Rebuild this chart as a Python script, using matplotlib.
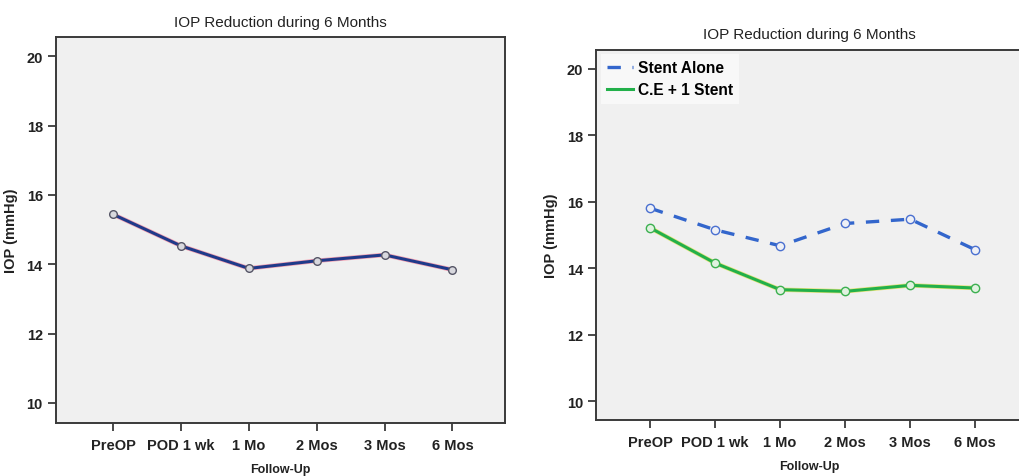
import matplotlib
matplotlib.use("Agg")
import matplotlib.pyplot as plt

categories = ["PreOP", "POD 1 wk", "1 Mo", "2 Mos", "3 Mos", "6 Mos"]
overall_iop = [15.44, 14.53, 13.88, 14.10, 14.27, 13.84]
stent_alone = [15.81, 15.16, 14.68, 15.35, 15.48, 14.56]
ce_stent = [15.22, 14.16, 13.36, 13.31, 13.49, 13.41]
yticks = [10, 12, 14, 16, 18, 20]
title = "IOP Reduction during 6 Months"

plt.rcParams['font.family'] = ['Liberation Sans', 'DejaVu Sans']

fig = plt.figure(figsize=(10.19, 4.77), dpi=100)
fig.patch.set_facecolor('white')

ax1 = fig.add_axes([0.055, 0.111, 0.441, 0.809])
ax2 = fig.add_axes([0.585, 0.118, 0.418, 0.776])

x = list(range(len(categories)))

def style(ax, ylim, xlim):
    ax.set_facecolor('#f0f0f0')
    for s in ax.spines.values():
        s.set_color('#3a3a3a')
        s.set_linewidth(1.4)
    ax.set_ylim(*ylim)
    ax.set_xlim(*xlim)
    ax.set_yticks(yticks)
    ax.set_yticklabels([str(t) for t in yticks], fontsize=10.5, fontweight='bold', color='#222222')
    ax.set_xticks(x)
    ax.set_xticklabels(categories, fontsize=10.5, fontweight='bold', color='#222222')
    ax.tick_params(axis='both', direction='out', length=6, width=1.3, color='#3a3a3a')
    ax.tick_params(axis='x', pad=5)
    ax.set_xlabel("Follow-Up", fontsize=9, fontweight='bold', color='#222222', labelpad=8)
    ax.set_ylabel("IOP (mmHg)", fontsize=10.5, fontweight='bold', color='#222222', labelpad=6)
    ax.set_title(title, fontsize=11, color='#222222', pad=8)

style(ax1, (9.42, 20.55), (-0.84, 5.78))
ax1.plot(x, overall_iop, color='#f4a0b0', lw=3.2, zorder=2, solid_capstyle='round')
ax1.plot(x, overall_iop, color='#1f3a8a', lw=2.2, zorder=3,
         marker='o', markersize=5.5, markerfacecolor='#d8d8de', markeredgecolor='#555566', markeredgewidth=1.0)

style(ax2, (9.45, 20.58), (-0.83, 5.72))
ax2.plot(x, stent_alone, color='#3366cc', lw=2.4, ls=(0, (4, 3.5)), zorder=3,
         marker='o', markersize=6, markerfacecolor='#eef0f6', markeredgecolor='#4a70d0', markeredgewidth=1.0,
         label="Stent Alone")
ax2.plot(x, ce_stent, color='#e6e27a', lw=3.2, zorder=2)
ax2.plot(x, ce_stent, color='#22b04a', lw=2.2, zorder=3,
         marker='o', markersize=6, markerfacecolor='#e0f2e0', markeredgecolor='#3cb050', markeredgewidth=1.0,
         label="C.E + 1 Stent")

handles, labels = ax2.get_legend_handles_labels()
handles = [handles[0], handles[-1]]
leg = ax2.legend(handles, ["Stent Alone", "C.E + 1 Stent"], loc='upper left', frameon=True,
                 fancybox=False, framealpha=1.0, edgecolor='none', facecolor='#f8f8f8',
                 prop={'size': 11.2, 'weight': 'bold'}, handlelength=1.7, handletextpad=0.3,
                 borderaxespad=0.3, labelspacing=0.45)
for h in leg.legend_handles:
    h.set_marker('')

fig.savefig("out.png", dpi=100, facecolor='white')
